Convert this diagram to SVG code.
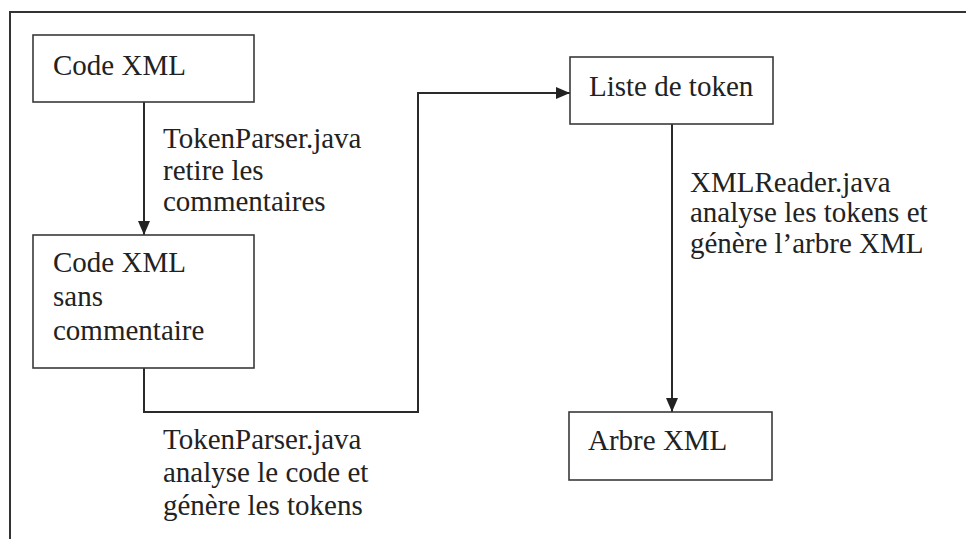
<svg xmlns="http://www.w3.org/2000/svg" width="966" height="539" viewBox="0 0 966 539">
  <style>
    .box { fill: #ffffff; stroke: #3a3a3a; stroke-width: 1.6; }
    .lbl { font-size: 29px; fill: #222222; }
    .wire { fill: none; stroke: #2a2a2a; stroke-width: 2; }
    .frame { fill: none; stroke: #333333; stroke-width: 2; }
  </style>
  <defs>
    <marker id="arrow" viewBox="0 0 14 12" refX="14" refY="6" markerWidth="14" markerHeight="12" markerUnits="userSpaceOnUse" orient="auto">
      <path d="M0,0 L14,6 L0,12 Z" fill="#222222"/>
    </marker>
  </defs>

  <rect width="966" height="539" fill="#ffffff"/>

  <!-- outer frame -->
  <path class="frame" d="M10,539 V12 H966"/>

  <g font-family="'Liberation Serif', serif">
    <!-- connectors and their captions -->
    <g id="connectors">
      <path class="wire" d="M144,102 V235" marker-end="url(#arrow)"/>
      <path class="wire" d="M144,368 V412 H418 V93 H570" marker-end="url(#arrow)"/>
      <path class="wire" d="M672,124 V412" marker-end="url(#arrow)"/>
      <text class="lbl" x="163" y="148">TokenParser.java</text>
      <text class="lbl" x="163" y="180">retire les</text>
      <text class="lbl" x="163" y="211">commentaires</text>
      <text class="lbl" x="163" y="449">TokenParser.java</text>
      <text class="lbl" x="163" y="482">analyse le code et</text>
      <text class="lbl" x="163" y="515">génère les tokens</text>
      <text class="lbl" x="690" y="192">XMLReader.java</text>
      <text class="lbl" x="690" y="222">analyse les tokens et</text>
      <text class="lbl" x="690" y="253">génère l’arbre XML</text>
    </g>

    <g id="code-xml">
      <rect class="box" x="33" y="35" width="221" height="67"/>
      <text class="lbl" x="53" y="75">Code XML</text>
    </g>

    <g id="code-sans-commentaire">
      <rect class="box" x="33" y="235" width="221" height="133"/>
      <text class="lbl" x="53" y="272">Code XML</text>
      <text class="lbl" x="53" y="306">sans</text>
      <text class="lbl" x="53" y="340">commentaire</text>
    </g>

    <g id="liste-token">
      <rect class="box" x="570" y="57" width="203" height="67"/>
      <text class="lbl" x="589" y="96">Liste de token</text>
    </g>

    <g id="arbre-xml">
      <rect class="box" x="569" y="412" width="203" height="68"/>
      <text class="lbl" x="588" y="450">Arbre XML</text>
    </g>
  </g>
</svg>
